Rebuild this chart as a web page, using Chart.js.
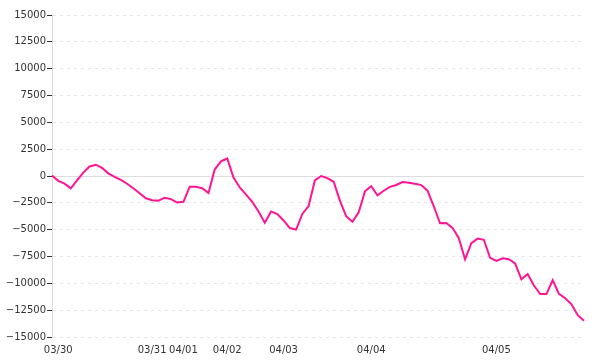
<!DOCTYPE html>
<html>
<head>
<meta charset="utf-8">
<script src="https://cdn.jsdelivr.net/npm/chart.js@4/dist/chart.umd.min.js"></script>
<style>
  html, body { margin: 0; padding: 0; background: #ffffff; }
  #wrap { width: 600px; height: 360px; }
</style>
</head>
<body>
<div id="wrap"><canvas id="c" width="600" height="360"></canvas></div>
<script>
// Day labels and the index of the point where each day starts
const dayLabels = ['03/30', '03/31', '04/01', '04/02', '04/03', '04/04', '04/05'];
const dayStartIndex = [1, 16, 21, 28, 37, 51, 71];

// Series values
const values = [
  50, -450, -710, -1150, -410, 320, 890, 1050, 750, 250,
  -90, -360, -720, -1140, -1600, -2080, -2250, -2300, -2020, -2150,
  -2470, -2400, -1000, -1000, -1140, -1590, 600, 1360, 1630, -150,
  -1070, -1730, -2420, -3300, -4350, -3300, -3540, -4140, -4850, -5000,
  -3540, -2800, -410, 0, -200, -540, -2300, -3750, -4260, -3390,
  -1430, -950, -1800, -1370, -1010, -840, -560, -630, -730, -850,
  -1370, -2820, -4400, -4370, -4830, -5790, -7770, -6260, -5830, -5940,
  -7620, -7920, -7660, -7750, -8150, -9630, -9140, -10200, -11000, -11000,
  -9700, -10980, -11390, -11960, -12970, -13490
];

// Y-axis range and step
const yMin = -15000;
const yMax = 15000;
const yStep = 2500;

const labels = values.map(() => '');
dayStartIndex.forEach((idx, k) => { labels[idx] = dayLabels[k]; });

const FONT = { family: '"DejaVu Sans", Verdana, sans-serif', size: 10 };
const TEXT = '#333333';

new Chart(document.getElementById('c'), {
  type: 'line',
  data: {
    labels: labels,
    datasets: [{
      data: values,
      borderColor: '#ff1493',
      backgroundColor: '#ff1493',
      borderWidth: 2,
      pointRadius: 0,
      pointHoverRadius: 0,
      tension: 0,
      fill: false
    }]
  },
  options: {
    responsive: false,
    animation: false,
    devicePixelRatio: 1,
    layout: { padding: { top: 15, right: 16, bottom: 0, left: 0 } },
    plugins: {
      legend: { display: false },
      tooltip: { enabled: false },
      title: { display: false }
    },
    scales: {
      x: {
        type: 'category',
        offset: false,
        grid: { display: false, drawTicks: false },
        border: { display: false },
        ticks: {
          autoSkip: false,
          maxRotation: 0,
          minRotation: 0,
          padding: 7,
          color: TEXT,
          font: FONT
        },
        afterFit: (s) => { s.height = 23; }
      },
      y: {
        min: yMin,
        max: yMax,
        grid: {
          color: (ctx) => (ctx.tick && ctx.tick.value === 0) ? '#dddddd' : '#e6e6e6',
          lineWidth: 1,
          drawTicks: true,
          tickLength: 5,
          tickColor: '#333333',
          tickWidth: 1
        },
        border: {
          display: true,
          color: '#dddddd',
          width: 1,
          dash: (ctx) => (ctx.tick && ctx.tick.value === 0) ? [] : [3, 4]
        },
        ticks: {
          stepSize: yStep,
          padding: 1,
          color: TEXT,
          font: FONT,
          callback: (v) => v < 0 ? '\u2212' + Math.abs(v) : String(v)
        },
        afterFit: (s) => { s.width = 52; }
      }
    }
  }
});
</script>
</body>
</html>
